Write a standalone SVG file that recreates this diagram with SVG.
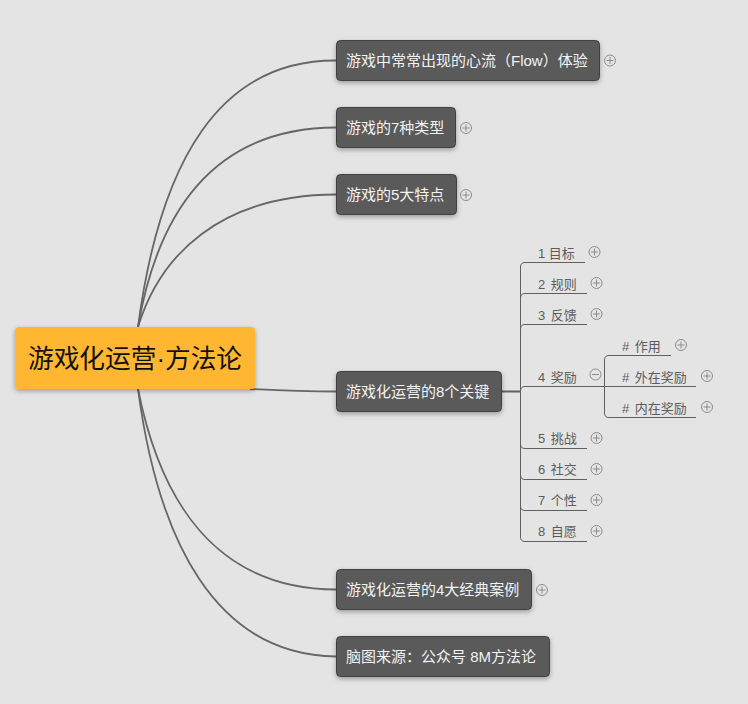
<svg xmlns="http://www.w3.org/2000/svg" width="748" height="704" viewBox="0 0 748 704">
<style>
text{font-family:"Liberation Sans","Noto Sans CJK SC",sans-serif}
.n{fill:#5a5a5a;stroke:#3f3f3f;stroke-width:1}
.t{font-size:15px;fill:#f2f2f2}
.s{font-size:13px;fill:#5c5c5c;word-spacing:2px}
.c{fill:none;stroke:#666;stroke-width:1.800}
.b{fill:none;stroke:#5f5f5f;stroke-width:1}
.f{fill:none;stroke:#8c8c8c;stroke-width:1}
</style>
<defs>
<filter id="sh" x="-10%" y="-20%" width="120%" height="150%"><feDropShadow dx="0" dy="2" stdDeviation="2.500" flood-color="#000" flood-opacity="0.32"/></filter>
<g id="plus"><circle r="5.500" class="f"/><path d="M-3.500 0H3.500M0-3.500V3.500" class="f"/></g>
<g id="minus"><circle r="5.500" class="f"/><path d="M-3.500 0H3.500" class="f"/></g>
</defs>
<rect width="748" height="704" fill="#e4e4e4"/>
<g id="connectors">
<path class="c" d="M138 327C160 160 220 60 336 60.500"/>
<path class="c" d="M138 327C158 210 215 128 336 127.500"/>
<path class="c" d="M138 327C160 255 220 195 336 194.500"/>
<path class="c" d="M250 389C290 391 310 391.500 336 391.500"/>
<path class="c" d="M138 389C160 500 215 589 336 589.500"/>
<path class="c" d="M138 389C158 540 215 655 336 656.500"/>
<path d="M502 391.500H520.500" fill="none" stroke="#5f5f5f" stroke-width="2"/>
<path class="b" d="M520.500 266V537Q520.500 541.500 525 541.500H587"/>
<path class="b" d="M585 262.500H525Q520.500 262.500 520.500 267"/>
<path class="b" d="M587 293.500H525Q520.500 293.500 520.500 298"/>
<path class="b" d="M587 324.500H525Q520.500 324.500 520.500 329"/>
<path class="b" d="M604.500 386.500H525Q520.500 386.500 520.500 391"/>
<path class="b" d="M520.500 444Q520.500 448.500 525 448.500H587"/>
<path class="b" d="M520.500 475Q520.500 479.500 525 479.500H587"/>
<path class="b" d="M520.500 506Q520.500 510.500 525 510.500H587"/>
<path class="b" d="M671 355.500H609Q604.500 355.500 604.500 360V413Q604.500 417.500 609 417.500H696"/>
<path class="b" d="M604.500 386.500H696"/>
</g>
<g id="root"><rect x="15" y="327" width="240" height="62" rx="4" fill="#ffb732" filter="url(#sh)"/><text x="135" y="368" font-size="25.700" fill="#111" text-anchor="middle">游戏化运营·方法论</text></g>
<g id="n1"><rect class="n" x="336.500" y="40.500" width="263" height="40" rx="4" filter="url(#sh)"/><text class="t" x="346" y="66">游戏中常常出现的心流（Flow）体验</text><use href="#plus" x="610" y="60.500"/></g>
<g id="n2"><rect class="n" x="336.500" y="107.500" width="119" height="40" rx="4" filter="url(#sh)"/><text class="t" x="346" y="133">游戏的7种类型</text><use href="#plus" x="466" y="128"/></g>
<g id="n3"><rect class="n" x="336.500" y="174.500" width="120" height="40" rx="4" filter="url(#sh)"/><text class="t" x="346" y="200">游戏的5大特点</text><use href="#plus" x="466" y="195"/></g>
<g id="n4"><rect class="n" x="336.500" y="371.500" width="165" height="40" rx="4" filter="url(#sh)"/><text class="t" x="346" y="397">游戏化运营的8个关键</text></g>
<g id="n5"><rect class="n" x="336.500" y="569.500" width="195" height="40" rx="4" filter="url(#sh)"/><text class="t" x="346" y="595">游戏化运营的4大经典案例</text><use href="#plus" x="542" y="590"/></g>
<g id="n6"><rect class="n" x="336.500" y="636.500" width="213" height="40" rx="4" filter="url(#sh)"/><text class="t" x="346" y="662">脑图来源：公众号 8M方法论</text></g>
<g id="k1"><text class="s" x="538" y="258" style="word-spacing:0">1 目标</text><use href="#plus" x="594.500" y="252"/></g>
<g id="k2"><text class="s" x="538" y="289">2 规则</text><use href="#plus" x="596.500" y="283"/></g>
<g id="k3"><text class="s" x="538" y="320">3 反馈</text><use href="#plus" x="596.500" y="314"/></g>
<g id="k4"><text class="s" x="538" y="382">4 奖励</text><use href="#minus" x="595.500" y="374.500"/></g>
<g id="k5"><text class="s" x="538" y="443">5 挑战</text><use href="#plus" x="596.500" y="438"/></g>
<g id="k6"><text class="s" x="538" y="474">6 社交</text><use href="#plus" x="596.500" y="469"/></g>
<g id="k7"><text class="s" x="538" y="505">7 个性</text><use href="#plus" x="596.500" y="500"/></g>
<g id="k8"><text class="s" x="538" y="536">8 自愿</text><use href="#plus" x="596.500" y="531"/></g>
<g id="r1"><text class="s" x="622" y="351">#  作用</text><use href="#plus" x="681" y="345"/></g>
<g id="r2"><text class="s" x="622" y="382">#  外在奖励</text><use href="#plus" x="707" y="376"/></g>
<g id="r3"><text class="s" x="622" y="413">#  内在奖励</text><use href="#plus" x="707" y="407"/></g>
</svg>
